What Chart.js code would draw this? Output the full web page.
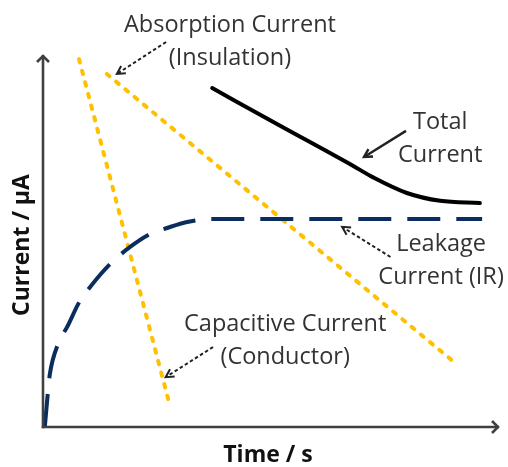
<!DOCTYPE html>
<html>
<head>
<meta charset="utf-8">
<script src="https://cdn.jsdelivr.net/npm/chart.js@4.4.1/dist/chart.umd.min.js"></script>
<style>
  html, body { margin:0; padding:0; background:#fff; }
  #wrap { width:508px; height:467px; }
</style>
</head>
<body>
<div id="wrap"><canvas id="cv" width="508" height="467"></canvas></div>
<script>
// Current vs time sketch (insulation test): values in arbitrary units 0..100
const capacitiveX = [7.9, 27.9];
const capacitiveY = [98.9, 5.4];
const absorptionX = [14.0, 89.9];
const absorptionY = [94.9, 17.7];
const totalX = [37.1, 52.0, 67.3, 72.4, 79.8, 87.1, 95.8];
const totalY = [91.1, 81.0, 70.7, 67.1, 62.9, 60.8, 60.2];
const leakageX = [0.4, 1.1, 1.5, 3.3, 5.3, 8.1, 10.3, 14.7, 19.1, 23.5, 27.2, 31.6, 37.3, 96.3];
const leakageY = [0, 9.7, 14.2, 22.3, 26.9, 33.9, 37.6, 43.8, 48.4, 51.9, 53.5, 55.1, 55.9, 55.9];

const xTitle = 'Time / s';
const yTitle = 'Current / µA';

// label text lines, anchor of first line (data units) and arrow (from -> to, data units)
const labels = [
  { lines: ['Absorption Current', '(Insulation)'], x: 41.0, y: 108.1, arrow: [27.0, 103.5, 16.2, 94.9], dashed: true },
  { lines: ['Total', 'Current'], x: 87.1, y: 81.9, arrow: [79.6, 79.6, 70.4, 72.6], dashed: false },
  { lines: ['Leakage', 'Current (IR)'], x: 87.3, y: 49.2, arrow: [76.2, 45.7, 65.6, 53.8], dashed: true },
  { lines: ['Capacitive Current', '(Conductor)'], x: 53.1, y: 27.7, arrow: [37.3, 21.5, 26.9, 13.4], dashed: true }
];

const pts = (xs, ys) => xs.map((x, i) => ({ x: x, y: ys[i] }));

const AXIS = '#404040';
const TEXT = '#333333';

function arrowLine(ctx, x1, y1, x2, y2, dashed, w, head) {
  ctx.save();
  ctx.strokeStyle = '#222';
  ctx.lineWidth = w;
  ctx.setLineDash(dashed ? [3.5, 2.5] : []);
  ctx.beginPath(); ctx.moveTo(x1, y1); ctx.lineTo(x2, y2); ctx.stroke();
  ctx.setLineDash([]);
  const a = Math.atan2(y2 - y1, x2 - x1);
  ctx.beginPath();
  ctx.moveTo(x2 - head * Math.cos(a - 0.5), y2 - head * Math.sin(a - 0.5));
  ctx.lineTo(x2, y2);
  ctx.lineTo(x2 - head * Math.cos(a + 0.5), y2 - head * Math.sin(a + 0.5));
  ctx.stroke();
  ctx.restore();
}

const decor = {
  id: 'decor',
  afterDatasetsDraw(chart) {
    const ctx = chart.ctx;
    const xs = chart.scales.x, ys = chart.scales.y;
    const L = xs.getPixelForValue(0), R = xs.getPixelForValue(100);
    const B = ys.getPixelForValue(0), T = ys.getPixelForValue(100);
    // axes with arrow heads
    ctx.save();
    ctx.strokeStyle = AXIS; ctx.lineWidth = 2.6; ctx.lineCap = 'butt';
    ctx.beginPath(); ctx.moveTo(L, B + 1.3); ctx.lineTo(L, T); ctx.stroke();
    ctx.beginPath(); ctx.moveTo(L - 1.3, B); ctx.lineTo(R, B); ctx.stroke();
    ctx.lineJoin = 'miter';
    ctx.beginPath(); ctx.moveTo(L - 6, T + 7); ctx.lineTo(L, T + 1); ctx.lineTo(L + 6, T + 7); ctx.stroke();
    ctx.beginPath(); ctx.moveTo(R - 7, B - 6); ctx.lineTo(R - 1, B); ctx.lineTo(R - 7, B + 6); ctx.stroke();
    // axis titles
    ctx.fillStyle = '#111';
    ctx.font = 'bold 23px "Open Sans", sans-serif';
    ctx.textAlign = 'center'; ctx.textBaseline = 'middle';
    ctx.fillText(xTitle, 268, B + 28);
    ctx.translate(L - 21, 245);
    ctx.rotate(-Math.PI / 2);
    ctx.fillText(yTitle, 0, 0);
    ctx.restore();
    // annotations
    ctx.save();
    ctx.fillStyle = TEXT;
    ctx.font = '23.5px "Open Sans", sans-serif';
    ctx.textAlign = 'center'; ctx.textBaseline = 'middle';
    labels.forEach(l => {
      const px = xs.getPixelForValue(l.x), py = ys.getPixelForValue(l.y);
      l.lines.forEach((t, i) => ctx.fillText(t, px, py + i * 33));
      const a = l.arrow;
      arrowLine(ctx, xs.getPixelForValue(a[0]), ys.getPixelForValue(a[1]),
        xs.getPixelForValue(a[2]), ys.getPixelForValue(a[3]), l.dashed, l.dashed ? 2 : 2.4, 9);
    });
    ctx.restore();
  }
};

new Chart(document.getElementById('cv'), {
  type: 'scatter',
  data: {
    datasets: [
      { label: 'Leakage', data: pts(leakageX, leakageY), showLine: true, borderColor: '#0b2d5e',
        borderWidth: 4, borderDash: [33, 16], pointRadius: 0, tension: 0.4, cubicInterpolationMode: 'monotone', fill: false },
      { label: 'Capacitive', data: pts(capacitiveX, capacitiveY), showLine: true, borderColor: '#FFC000',
        borderWidth: 4, borderDash: [3.5, 8.5], borderCapStyle: 'round', pointRadius: 0, fill: false },
      { label: 'Absorption', data: pts(absorptionX, absorptionY), showLine: true, borderColor: '#FFC000',
        borderWidth: 4, borderDash: [3.5, 8.5], borderCapStyle: 'round', pointRadius: 0, fill: false },
      { label: 'Total', data: pts(totalX, totalY), showLine: true, borderColor: '#000',
        borderWidth: 4, borderCapStyle: 'round', pointRadius: 0, tension: 0.4, cubicInterpolationMode: 'monotone', fill: false }
    ]
  },
  options: {
    responsive: false,
    animation: false,
    layout: { padding: { left: 43, right: 9, top: 55, bottom: 40 } },
    plugins: { legend: { display: false }, tooltip: { enabled: false } },
    scales: {
      x: { type: 'linear', min: 0, max: 100, display: false },
      y: { type: 'linear', min: 0, max: 100, display: false }
    }
  },
  plugins: [decor]
});
</script>
</body>
</html>
